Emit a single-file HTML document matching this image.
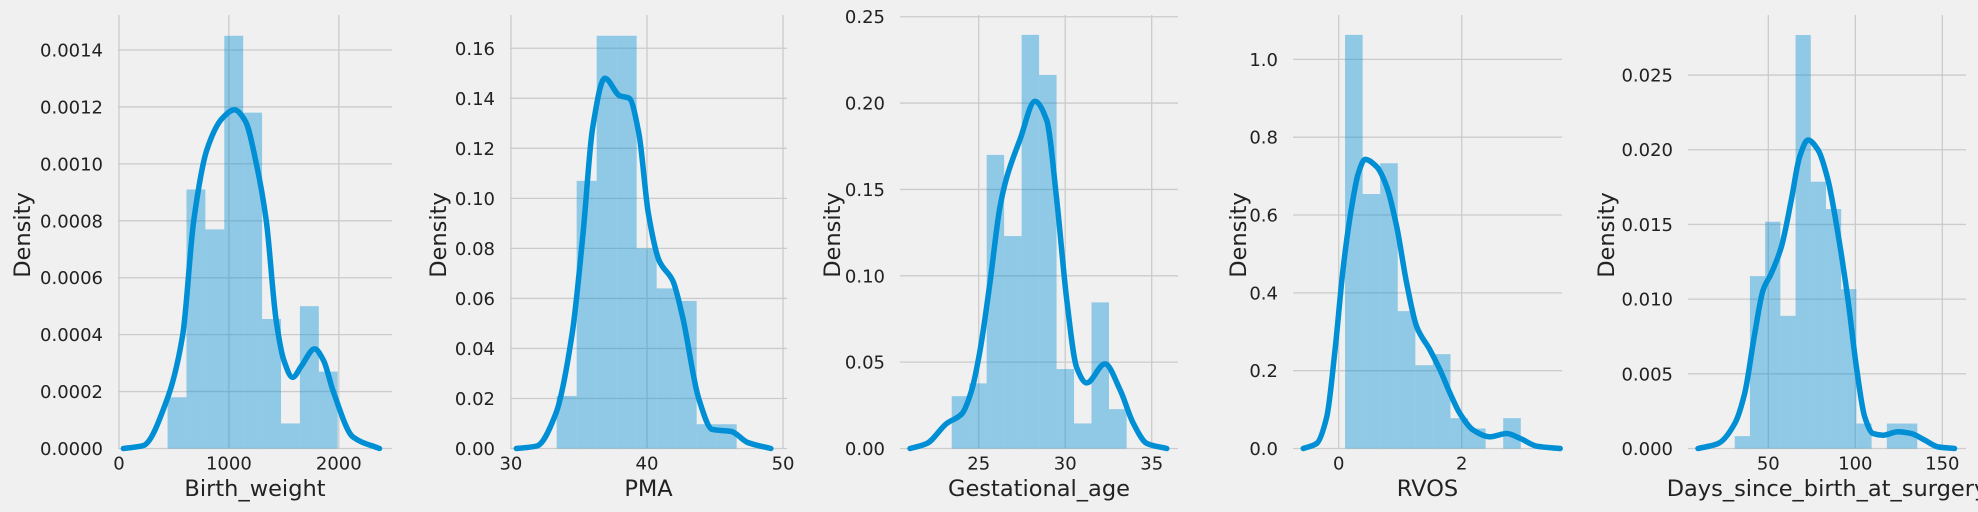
<!DOCTYPE html>
<html><head><meta charset="utf-8">
<style>
html,body{margin:0;padding:0;background:#f0f0f0;overflow:hidden;}
svg{display:block;font-family:"DejaVu Sans","Liberation Sans",sans-serif;}
</style></head>
<body>
<svg id="chart" width="1978" height="512" viewBox="0 0 1978 512" xmlns="http://www.w3.org/2000/svg">
<rect x="0" y="0" width="1978" height="512" fill="#f0f0f0"/>
</svg>
<script>
// ---- Data ----
const bwEdges = [442, 614, 786, 958, 1130, 1302, 1474, 1646, 1818, 1990];
const bwHeights = [0.00018, 0.00091, 0.00077, 0.00145, 0.00118, 0.000455, 0.000088, 0.0005, 0.00027];
const bwKdeX = [40, 220, 435, 580, 680, 800, 940, 1050, 1150, 1250, 1340, 1430, 1500, 1580, 1660, 1780, 1860, 1950, 2130, 2370];
const bwKdeY = [0, 0.00001, 0.00017, 0.0004, 0.0008, 0.00105, 0.00116, 0.00119, 0.00115, 0.001, 0.0008, 0.00045, 0.00031, 0.00025, 0.00029, 0.00035, 0.00031, 0.0002, 0.00004, 0];

const pmaEdges = [33.36, 34.83, 36.30, 37.77, 39.24, 40.71, 42.18, 43.65, 45.12, 46.59];
const pmaHeights = [0.021, 0.107, 0.165, 0.165, 0.080, 0.064, 0.059, 0.0097, 0.0097];
const pmaKdeX = [30.4, 31.9, 33.3, 34.5, 35.3, 36.0, 36.9, 38.0, 38.7, 39.4, 40.1, 40.9, 41.9, 42.6, 43.8, 44.8, 46.2, 47.4, 49.1];
const pmaKdeY = [0, 0.001, 0.014, 0.046, 0.086, 0.128, 0.148, 0.141, 0.140, 0.126, 0.094, 0.075, 0.067, 0.053, 0.020, 0.0076, 0.0068, 0.0024, 0];

const gaEdges = [23.44, 24.45, 25.46, 26.47, 27.48, 28.49, 29.50, 30.51, 31.52, 32.53, 33.55];
const gaHeights = [0.0303, 0.0377, 0.170, 0.123, 0.2395, 0.2163, 0.046, 0.0145, 0.0846, 0.0228];
const gaKdeX = [21.03, 22.0, 23.15, 24.02, 24.6, 25.08, 25.65, 26.23, 26.62, 27.39, 28.25, 28.93, 29.51, 30.09, 30.66, 31.24, 32.3, 33.17, 33.94, 34.71, 35.87];
const gaKdeY = [0, 0.0029, 0.0145, 0.020, 0.034, 0.057, 0.096, 0.140, 0.157, 0.179, 0.201, 0.190, 0.144, 0.086, 0.047, 0.038, 0.049, 0.034, 0.0145, 0.003, 0];

const rvEdges = [0.103, 0.389, 0.674, 0.960, 1.246, 1.531, 1.817, 2.103, 2.388, 2.674, 2.96];
const rvHeights = [1.063, 0.654, 0.733, 0.353, 0.214, 0.2425, 0.078, 0.0514, 0, 0.078];
const rvKdeX = [-0.576, -0.358, -0.195, -0.06, 0.075, 0.211, 0.319, 0.428, 0.618, 0.78, 0.943, 1.106, 1.268, 1.485, 1.647, 1.81, 1.97, 2.19, 2.46, 2.73, 2.95, 3.22, 3.6];
const rvKdeY = [0, 0.013, 0.081, 0.253, 0.467, 0.621, 0.707, 0.743, 0.724, 0.673, 0.57, 0.424, 0.313, 0.253, 0.202, 0.142, 0.09, 0.047, 0.030, 0.0385, 0.026, 0.006, 0];

const dsEdges = [30.7, 39.44, 48.18, 56.92, 65.66, 74.4, 83.14, 91.88, 100.62, 109.36, 118.1, 126.84, 135.6];
const dsHeights = [0.00083, 0.01154, 0.01518, 0.00888, 0.02768, 0.01786, 0.01603, 0.01067, 0.00167, 0, 0.00167, 0.00167];
const dsKdeX = [9.6, 21.1, 30.7, 36.4, 42.2, 47.0, 51.7, 57.5, 63.2, 68.0, 72.8, 78.6, 84.3, 90, 95.8, 100.6, 105.4, 110.2, 115.9, 124.5, 132.2, 139.9, 147.5, 157];
const dsKdeY = [0, 0.00033, 0.00167, 0.00368, 0.0077, 0.0106, 0.01172, 0.0135, 0.01663, 0.01953, 0.02065, 0.01998, 0.01797, 0.0144, 0.00994, 0.00547, 0.00212, 0.001, 0.00089, 0.00112, 0.001, 0.00056, 0.00011, 0];

const bwYTicks = [0, 0.0002, 0.0004, 0.0006, 0.0008, 0.0010, 0.0012, 0.0014];
const bwYLabels = ["0.0000","0.0002","0.0004","0.0006","0.0008","0.0010","0.0012","0.0014"];
const bwXTicks = [0, 1000, 2000];
const pmaYTicks = [0, 0.02, 0.04, 0.06, 0.08, 0.10, 0.12, 0.14, 0.16];
const pmaYLabels = ["0.00","0.02","0.04","0.06","0.08","0.10","0.12","0.14","0.16"];
const pmaXTicks = [30, 40, 50];
const gaYTicks = [0, 0.05, 0.10, 0.15, 0.20, 0.25];
const gaYLabels = ["0.00","0.05","0.10","0.15","0.20","0.25"];
const gaXTicks = [25, 30, 35];
const rvYTicks = [0, 0.2, 0.4, 0.6, 0.8, 1.0];
const rvYLabels = ["0.0","0.2","0.4","0.6","0.8","1.0"];
const rvXTicks = [0, 2];
const dsYTicks = [0, 0.005, 0.010, 0.015, 0.020, 0.025];
const dsYLabels = ["0.000","0.005","0.010","0.015","0.020","0.025"];
const dsXTicks = [50, 100, 150];

// ---- Layout ----
const TOP = 15, BOT = 448.5;
const panels = [
  {key:'birth-weight', label:'Birth_weight', left:118, right:392, xmin:-9, xmax:2484, ymax:0.001523, ylabX:22,
   edges:bwEdges, heights:bwHeights, kx:bwKdeX, ky:bwKdeY, yt:bwYTicks, yl:bwYLabels, xt:bwXTicks},
  {key:'pma', label:'PMA', left:510, right:787, xmin:29.93, xmax:50.29, ymax:0.1733, ylabX:438,
   edges:pmaEdges, heights:pmaHeights, kx:pmaKdeX, ky:pmaKdeY, yt:pmaYTicks, yl:pmaYLabels, xt:pmaXTicks},
  {key:'gestational-age', label:'Gestational_age', left:900, right:1178, xmin:20.45, xmax:36.52, ymax:0.251, ylabX:832,
   edges:gaEdges, heights:gaHeights, kx:gaKdeX, ky:gaKdeY, yt:gaYTicks, yl:gaYLabels, xt:gaXTicks},
  {key:'rvos', label:'RVOS', left:1293, right:1562, xmin:-0.743, xmax:3.63, ymax:1.114, ylabX:1238,
   edges:rvEdges, heights:rvHeights, kx:rvKdeX, ky:rvKdeY, yt:rvYTicks, yl:rvYLabels, xt:rvXTicks},
  {key:'days-since-birth', label:'Days_since_birth_at_surgery', left:1688, right:1966, xmin:3.85, xmax:163.6, ymax:0.02902, ylabX:1606,
   edges:dsEdges, heights:dsHeights, kx:dsKdeX, ky:dsKdeY, yt:dsYTicks, yl:dsYLabels, xt:dsXTicks}
];

const NS = 'http://www.w3.org/2000/svg';
const svg = document.getElementById('chart');
function mk(tag, attrs, parent){
  const e = document.createElementNS(NS, tag);
  for (const k in attrs) e.setAttribute(k, attrs[k]);
  parent.appendChild(e);
  return e;
}
// monotone cubic (Fritsch-Carlson) path
function smoothPath(pts){
  const n = pts.length;
  const dx = [], m = [], t = new Array(n);
  for (let i = 0; i < n - 1; i++){
    dx.push(pts[i+1][0] - pts[i][0]);
    m.push((pts[i+1][1] - pts[i][1]) / dx[i]);
  }
  t[0] = m[0]; t[n-1] = m[n-2];
  for (let i = 1; i < n - 1; i++){
    if (m[i-1] * m[i] <= 0) t[i] = 0;
    else {
      const w1 = 2*dx[i] + dx[i-1], w2 = dx[i] + 2*dx[i-1];
      t[i] = (w1 + w2) / (w1 / m[i-1] + w2 / m[i]);
    }
  }
  let d = 'M' + pts[0][0].toFixed(2) + ',' + pts[0][1].toFixed(2);
  for (let i = 0; i < n - 1; i++){
    const h = dx[i] / 3;
    d += ' C' + (pts[i][0]+h).toFixed(2) + ',' + (pts[i][1]+t[i]*h).toFixed(2) + ' ' +
         (pts[i+1][0]-h).toFixed(2) + ',' + (pts[i+1][1]-t[i+1]*h).toFixed(2) + ' ' +
         pts[i+1][0].toFixed(2) + ',' + pts[i+1][1].toFixed(2);
  }
  return d;
}

panels.forEach(p => {
  const sx = v => p.left + (v - p.xmin) / (p.xmax - p.xmin) * (p.right - p.left);
  const sy = v => BOT - v / p.ymax * (BOT - TOP);
  const g = mk('g', {}, svg);
  
  

  p.yt.forEach((t, i) => {
    const y = sy(t);
    const gl = mk('line', {x1:p.left, x2:p.right, y1:y, y2:y, stroke:'#cbcbcb', 'stroke-width':1.3}, g);
    
    
    const tl = mk('text', {x:p.left - 15, y:y + 6.5, 'text-anchor':'end', 'font-size':'18', fill:'#222'}, g);
    tl.textContent = p.yl[i];
    
    
  });
  p.xt.forEach(t => {
    const x = sx(t);
    const gl = mk('line', {x1:x, x2:x, y1:TOP, y2:BOT, stroke:'#cbcbcb', 'stroke-width':1.3}, g);
    
    
    const tl = mk('text', {x:x, y:469.5, 'text-anchor':'middle', 'font-size':'18', fill:'#222'}, g);
    tl.textContent = String(t);
    
    
  });

  p.heights.forEach((h, i) => {
    if (h <= 0) return;
    const x0 = sx(p.edges[i]), x1 = sx(p.edges[i+1]);
    const r = mk('rect', {x:x0, y:sy(h), width:x1 - x0, height:BOT - sy(h), fill:'#008fd5', 'fill-opacity':0.4}, g);
    
    
  });

  const pts = p.kx.map((v, i) => [sx(v), sy(p.ky[i])]);
  const kd = mk('path', {d:smoothPath(pts), fill:'none', stroke:'#008fd5', 'stroke-width':5.5, 'stroke-linecap':'round', 'stroke-linejoin':'round'}, g);
  
  

  const xl = mk('text', {x:(p.left + p.right)/2, y:496, 'text-anchor':'middle', 'font-size':'22.5', fill:'#222'}, g);
  xl.textContent = p.label;
  
  
  const yl = mk('text', {x:0, y:0, 'text-anchor':'middle', 'font-size':'22.5', fill:'#222', transform:'translate(' + (p.ylabX + 8) + ',235) rotate(-90)'}, g);
  yl.textContent = 'Density';
  
  
});
</script>
</body></html>
